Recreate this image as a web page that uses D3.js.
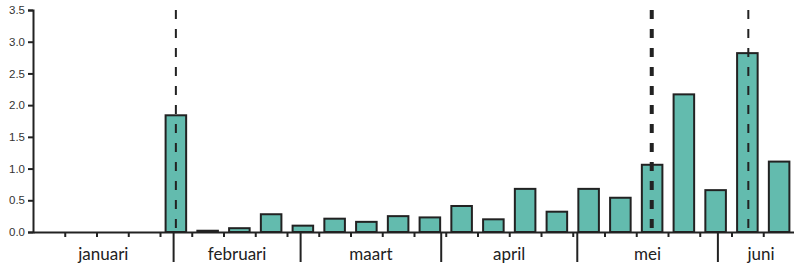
<!DOCTYPE html>
<html><head><meta charset="utf-8">
<script src="https://cdn.jsdelivr.net/npm/d3@7"></script>
<style>
html,body{margin:0;padding:0;background:#fff;}
svg{display:block;}
</style></head>
<body>
<svg id="chart" width="794" height="267"></svg>
<script>
// ---- data ----
const year = 2021;
const weekIndex = d3.range(24);              // weeks starting Jan 1
const weekValues = [0, 0, 0, 0, 1.84, 0.02, 0.06, 0.28, 0.10, 0.21, 0.16, 0.25, 0.23,
                    0.41, 0.20, 0.68, 0.32, 0.68, 0.54, 1.06, 2.17, 0.66, 2.82, 1.11];
const monthNames = ["januari", "februari", "maart", "april", "mei", "juni"];
const monthStarts = [0, 1, 2, 3, 4, 5];       // month indices
const yTicks = [0, 0.5, 1.0, 1.5, 2.0, 2.5, 3.0, 3.5];
const eventDates = [new Date(year, 1, 1, 12), new Date(year, 4, 17, 10), new Date(year, 5, 7, 17)];
const eventBold = [false, true, false];

// ---- layout ----
const svg = d3.select("#chart");
const mLeft = 33, mTop = 10, mBottom = 232;
const start = new Date(year, 0, 1), end = new Date(year, 5, 20);
const pxPerDay = 4.5357;
const x = d3.scaleTime().domain([start, end]).range([mLeft, mLeft + pxPerDay * 170]);
const y = d3.scaleLinear().domain([0, 3.5]).range([mBottom, mTop]);
const ink = "#222";
const dayMs = 864e5;
const wk = i => new Date(start.getTime() + i * 7 * dayMs);

// bars
const inset = 5.6;
svg.append("g").selectAll("rect").data(weekIndex.filter(i => weekValues[i] > 0)).join("rect")
  .attr("x", i => x(wk(i)) + inset)
  .attr("width", i => x(wk(i + 1)) - x(wk(i)) - 2 * inset)
  .attr("y", i => y(weekValues[i]))
  .attr("height", i => y(0) - y(weekValues[i]))
  .attr("fill", "#63bbae")
  .attr("stroke", ink)
  .attr("stroke-width", 2);

// y axis
const yAxis = d3.axisLeft(y).tickValues(yTicks).tickFormat(d3.format(".1f")).tickSize(5).tickPadding(3);
const gy = svg.append("g").attr("transform", `translate(${mLeft},0)`).call(yAxis);
gy.select(".domain").attr("stroke", ink).attr("stroke-width", 2);
gy.selectAll(".tick line").attr("stroke", ink).attr("stroke-width", 2);
gy.selectAll(".tick text").attr("fill", "#333").style("font-family", "'Liberation Sans', Arial, sans-serif").style("font-size", "11.5px");

// x axis: weekly minor ticks
const weekTicks = d3.range(1, 25).map(wk);
const gx = svg.append("g").attr("transform", `translate(0,${mBottom})`)
  .call(d3.axisBottom(x).tickValues(weekTicks).tickSize(5).tickFormat("").tickSizeOuter(0));
gx.select(".domain").attr("stroke", ink).attr("stroke-width", 2);
gx.selectAll(".tick line").attr("stroke", ink).attr("stroke-width", 2);

// month boundaries and labels
const monthDates = monthStarts.map(m => new Date(year, m, 1));
svg.append("g").selectAll("line").data(monthDates.slice(1)).join("line")
  .attr("x1", d => x(d)).attr("x2", d => x(d))
  .attr("y1", mBottom).attr("y2", 262)
  .attr("stroke", ink).attr("stroke-width", 2);
svg.append("g").selectAll("text").data(monthNames).join("text")
  .attr("x", (d, i) => {
    const a = x(monthDates[i]);
    const b = i + 1 < monthDates.length ? x(monthDates[i + 1]) : x(end);
    return (a + b) / 2;
  })
  .attr("y", 259.5)
  .attr("text-anchor", "middle")
  .attr("fill", "#222")
  .style("font-family", "Lato, 'Open Sans', sans-serif")
  .style("font-size", "17px")
  .text(d => d);

// event dashed lines
svg.append("g").selectAll("line").data(eventDates).join("line")
  .attr("x1", d => x(d)).attr("x2", d => x(d))
  .attr("y1", mTop).attr("y2", 238)
  .attr("stroke", ink)
  .attr("stroke-width", (d, i) => eventBold[i] ? 4 : 2)
  .attr("stroke-dasharray", "9,10");
</script>
</body></html>
